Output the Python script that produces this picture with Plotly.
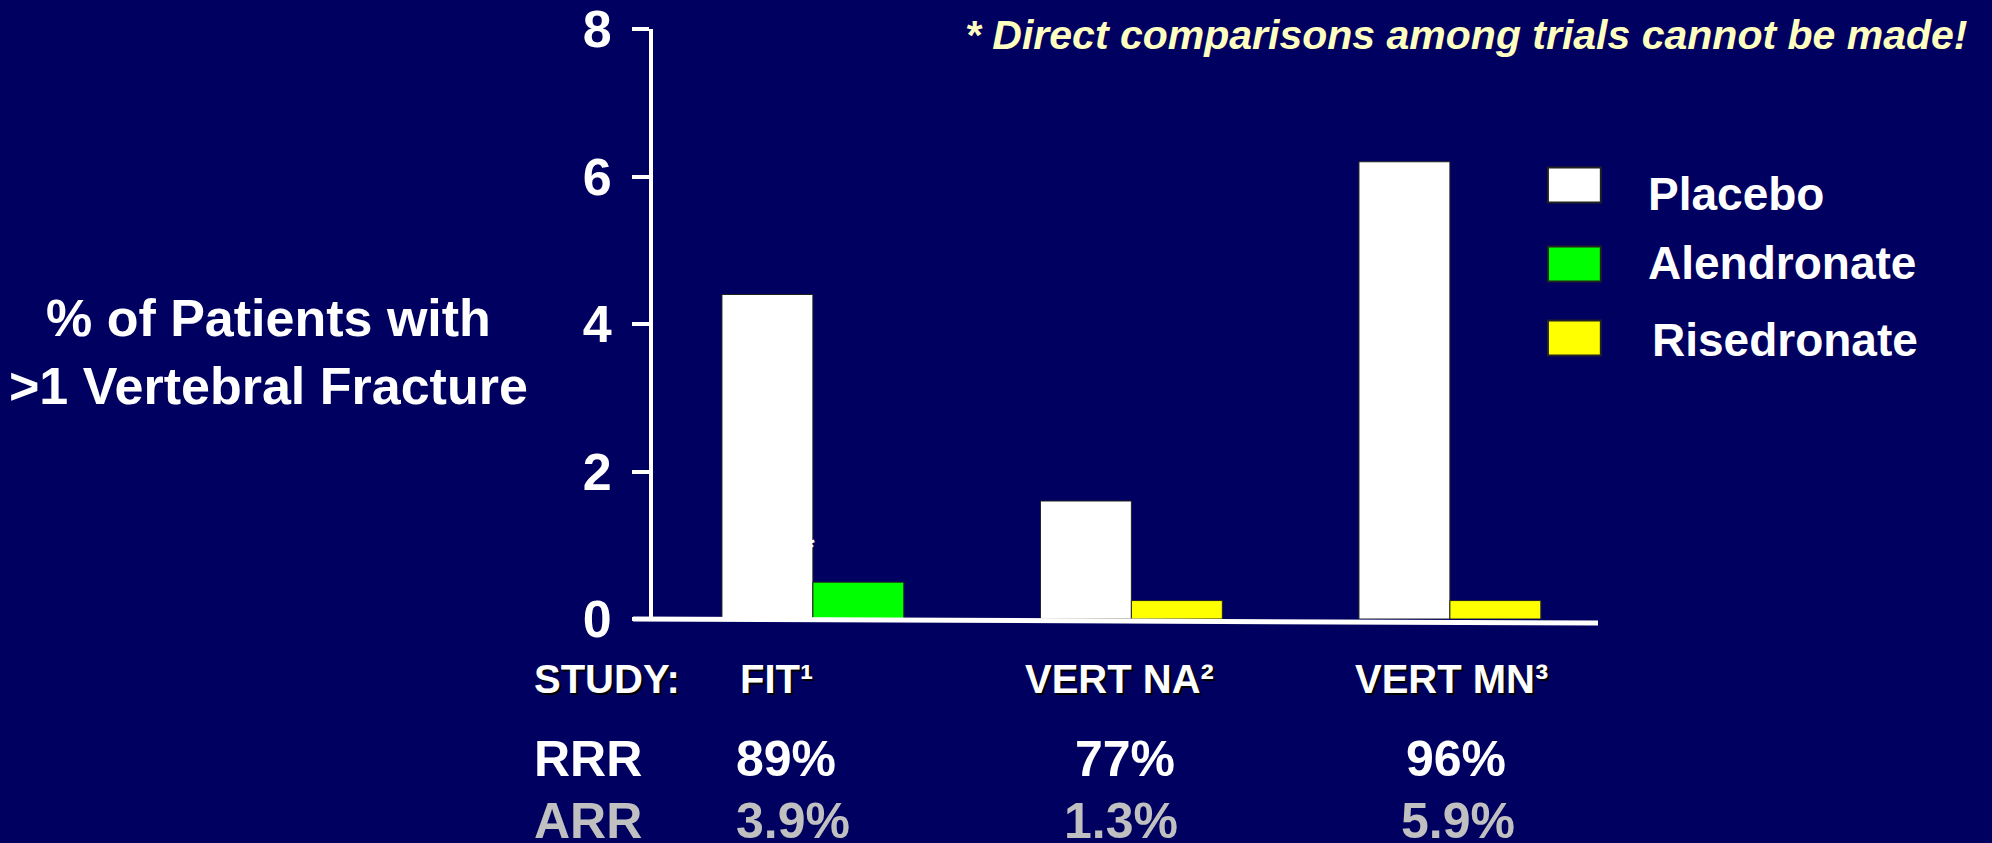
# Bar chart: % of patients with >1 vertebral fracture, placebo vs bisphosphonate, by study

import plotly.graph_objects as go

# Data
studies = ["FIT", "VERT NA", "VERT MN"]
study_labels = ["FIT¹", "VERT NA²", "VERT MN³"]
placebo = [4.4, 1.6, 6.2]
alendronate_studies = ["FIT"]
alendronate = [0.5]
risedronate_studies = ["VERT NA", "VERT MN"]
risedronate = [0.25, 0.25]
rrr = ["89%", "77%", "96%"]
arr = ["3.9%", "1.3%", "5.9%"]
y_ticks = [0, 2, 4, 6, 8]

series_names = ["Placebo", "Alendronate", "Risedronate"]
series_colors = ["#FFFFFF", "#00FF00", "#FFFF00"]

BG = "#000060"
FONT = "Liberation Sans, Arial, sans-serif"

fig = go.Figure()

fig.add_trace(go.Bar(
    x=studies, y=placebo, name=series_names[0], offsetgroup="placebo",
    marker=dict(color=series_colors[0], line=dict(color="#222222", width=1))
))
fig.add_trace(go.Bar(
    x=alendronate_studies, y=alendronate, name=series_names[1], offsetgroup="drug",
    marker=dict(color=series_colors[1], line=dict(color="#222222", width=1))
))
fig.add_trace(go.Bar(
    x=risedronate_studies, y=risedronate, name=series_names[2], offsetgroup="drug",
    marker=dict(color=series_colors[2], line=dict(color="#222222", width=1))
))

fig.update_layout(
    width=1992, height=843,
    paper_bgcolor=BG, plot_bgcolor=BG,
    margin=dict(l=653, r=394, t=29, b=224, autoexpand=False),
    barmode="group", bargap=0.429, bargroupgap=0,
    showlegend=False,
    font=dict(family=FONT, color="white"),
)

fig.update_xaxes(
    range=[-0.502, 2.465], showticklabels=False, showgrid=False,
    zeroline=False, showline=False, ticks="", automargin=False
)
fig.update_yaxes(
    range=[0, 8], tickvals=y_ticks, showgrid=False, zeroline=False,
    showline=True, linecolor="white", linewidth=4,
    ticks="outside", ticklen=17, tickwidth=4, tickcolor="white",
    tickfont=dict(family=FONT, size=52, color="white", weight="bold"),
    ticklabelstandoff=10, automargin=False,
)

# x axis baseline (slightly slanted, extends under the y ticks); paper refs so it is not clipped
fig.add_shape(type="line", xref="paper", yref="paper",
              x0=-0.021, y0=0, x1=1.0, y1=-0.0068,
              line=dict(color="white", width=5))

# y axis title
fig.add_annotation(
    text="% of Patients with<br>>1 Vertebral Fracture",
    xref="paper", yref="paper", x=-0.407, y=0.452,
    xanchor="center", yanchor="middle", showarrow=False,
    font=dict(family=FONT, size=52, color="white", weight="bold"),
)

# note at top right
fig.add_annotation(
    text="* Direct comparisons among trials cannot be made!",
    xref="paper", yref="paper", x=1.3925, y=0.99,
    xanchor="right", yanchor="middle", showarrow=False,
    font=dict(family=FONT, size=41, color="#FFFFC0", weight="bold", style="italic"),
)

# small asterisk next to the FIT placebo bar (mostly hidden against the bar)
fig.add_annotation(text="*", x="FIT", y=0.98, xref="x", yref="y", xshift=-4,
                   showarrow=False, xanchor="center", yanchor="middle",
                   font=dict(family=FONT, size=30, color="white", weight="bold"))

# hand-drawn legend with big swatches
legend_y = [0.7356, 0.6017, 0.4763]
label_y = [0.72, 0.603, 0.473]
label_x = [1.051, 1.051, 1.055]
for name, color, yb, yl, xl in zip(series_names, series_colors, legend_y, label_y, label_x):
    fig.add_shape(type="rect", xref="paper", yref="paper",
                  x0=0.947, x1=1.003, y0=yb - 0.0296, y1=yb + 0.0296,
                  fillcolor=color, line=dict(color="#222222", width=2))
    fig.add_annotation(text=name, xref="paper", yref="paper", x=xl, y=yl,
                       xanchor="left", yanchor="middle", showarrow=False,
                       font=dict(family=FONT, size=46, color="white", weight="bold"))

# table under the chart
shadow = "2px 2px 0px #000000"
fig.add_annotation(text="STUDY:", xref="paper", yref="paper", x=-0.128, y=-0.102,
                   xanchor="left", yanchor="middle", showarrow=False,
                   font=dict(family=FONT, size=40, color="white", weight="bold", shadow=shadow))
fig.add_annotation(text="RRR", xref="paper", yref="paper", x=-0.128, y=-0.238,
                   xanchor="left", yanchor="middle", showarrow=False,
                   font=dict(family=FONT, size=50, color="white", weight="bold"))
fig.add_annotation(text="ARR", xref="paper", yref="paper", x=-0.128, y=-0.342,
                   xanchor="left", yanchor="middle", showarrow=False,
                   font=dict(family=FONT, size=50, color="#C0C0C0", weight="bold"))

study_shift = [-36, -12, 2]
rrr_shift = [-27, -6, 6]
arr_shift = [-20, -10, 8]
for s, lab, r, a, ss, rs, as_ in zip(studies, study_labels, rrr, arr, study_shift, rrr_shift, arr_shift):
    fig.add_annotation(text=lab, xref="x", yref="paper", x=s, y=-0.102, xshift=ss,
                       xanchor="center", yanchor="middle", showarrow=False,
                       font=dict(family=FONT, size=40, color="white", weight="bold", shadow=shadow))
    fig.add_annotation(text=r, xref="x", yref="paper", x=s, y=-0.238, xshift=rs,
                       xanchor="center", yanchor="middle", showarrow=False,
                       font=dict(family=FONT, size=50, color="white", weight="bold"))
    fig.add_annotation(text=a, xref="x", yref="paper", x=s, y=-0.342, xshift=as_,
                       xanchor="center", yanchor="middle", showarrow=False,
                       font=dict(family=FONT, size=50, color="#C0C0C0", weight="bold"))

fig.write_html(
    "out.html",
    config={"displayModeBar": False},
    post_script="document.body.style.margin='0';document.body.style.background='#000060';",
)
